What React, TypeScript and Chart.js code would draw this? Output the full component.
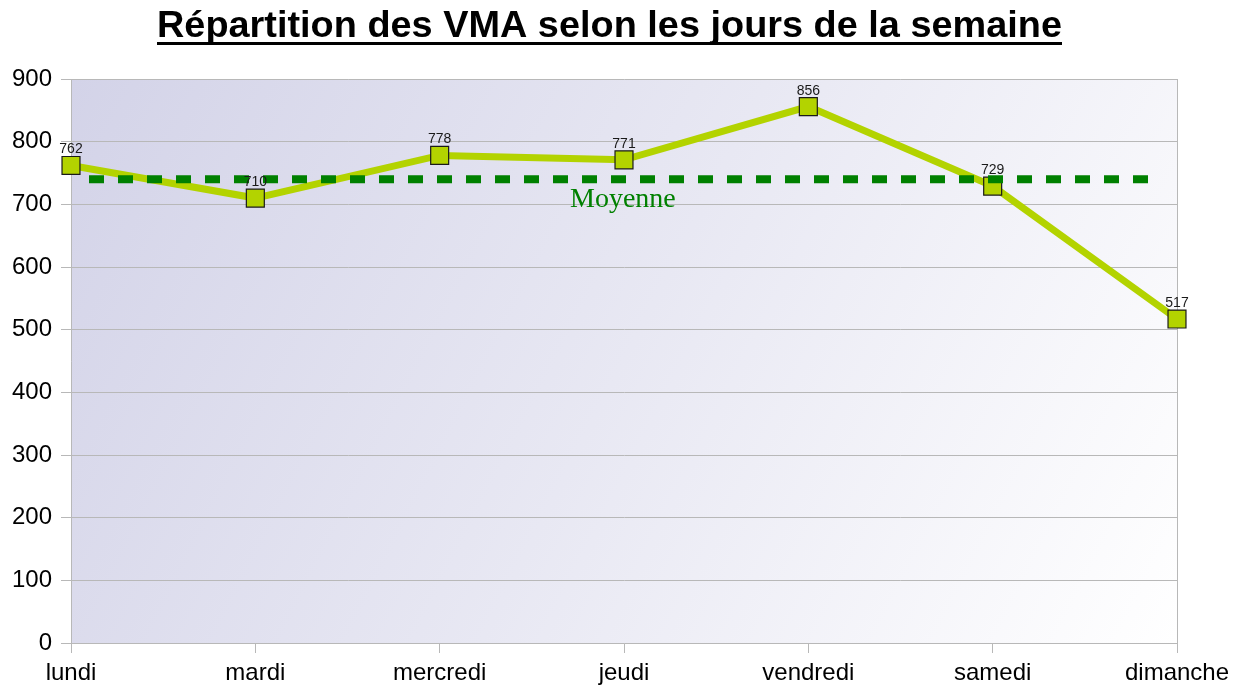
import React, { useEffect, useRef } from "react";
import { Chart, registerables } from "chart.js";

Chart.register(...registerables);

const TITLE = "Répartition des VMA selon les jours de la semaine";
const categories = ["lundi", "mardi", "mercredi", "jeudi", "vendredi", "samedi", "dimanche"];
const vmaValues = [762, 710, 778, 771, 856, 729, 517];
const meanValue = 740;
const meanLabel = "Moyenne";
const yMin = 0;
const yMax = 900;
const yStep = 100;

const LIME = "#b3d300";
const GREEN = "#008000";
const GRID = "#b8b8b8";

const bgPlugin = {
  id: "bgGradient",
  beforeDraw(chart: any) {
    const { ctx, chartArea: a } = chart;
    const g = ctx.createLinearGradient(a.left, a.top, a.right, a.bottom);
    g.addColorStop(0, "#d3d3e8");
    g.addColorStop(0.5, "#e8e8f3");
    g.addColorStop(1, "#ffffff");
    ctx.save();
    ctx.fillStyle = g;
    ctx.fillRect(a.left, a.top, a.right - a.left, a.bottom - a.top);
    ctx.restore();
  },
};

const overlayPlugin = {
  id: "overlay",
  beforeDatasetsDraw(chart: any) {
    const { ctx, chartArea: a } = chart;
    ctx.save();
    ctx.strokeStyle = GRID;
    ctx.lineWidth = 1;
    ctx.beginPath();
    ctx.moveTo(a.right + 0.5, a.top);
    ctx.lineTo(a.right + 0.5, a.bottom);
    ctx.stroke();
    ctx.restore();
  },
  afterDatasetsDraw(chart: any) {
    const { ctx, chartArea: a } = chart;
    const yScale = chart.scales.y;
    const my = yScale.getPixelForValue(meanValue);
    ctx.save();
    // mean dashed line
    ctx.strokeStyle = GREEN;
    ctx.lineWidth = 8;
    ctx.setLineDash([15, 14]);
    ctx.beginPath();
    ctx.moveTo(a.left + 18, my);
    ctx.lineTo(a.right - 16, my);
    ctx.stroke();
    ctx.setLineDash([]);
    // Moyenne label
    ctx.fillStyle = GREEN;
    ctx.font = '28px "Liberation Serif", "Times New Roman", serif';
    ctx.textAlign = "left";
    ctx.textBaseline = "alphabetic";
    ctx.fillText(meanLabel, 570, my + 28);
    // data labels
    const meta = chart.getDatasetMeta(0);
    ctx.fillStyle = "#1a1a1a";
    ctx.font = '14px "Liberation Sans", Arial, sans-serif';
    ctx.textAlign = "center";
    ctx.textBaseline = "alphabetic";
    meta.data.forEach((pt: any, i: number) => {
      ctx.fillText(String(vmaValues[i]), pt.x, pt.y - 12);
    });
    // title
    ctx.fillStyle = "#000";
    ctx.font = 'bold 36px "Liberation Sans Narrow", "Liberation Sans", Arial, sans-serif';
    const w = ctx.measureText(TITLE).width;
    const target = 905;
    const cx = 609.5;
    ctx.save();
    ctx.translate(cx, 37);
    ctx.scale(target / w, 1.04);
    ctx.textAlign = "center";
    ctx.fillText(TITLE, 0, 0);
    ctx.restore();
    ctx.fillRect(cx - target / 2, 42, target, 3);
    ctx.restore();
  },
};

export default function App() {
  const ref = useRef<HTMLCanvasElement>(null);
  useEffect(() => {
    if (!ref.current) return;
    const chart = new Chart(ref.current, {
      type: "line",
      data: {
        labels: categories,
        datasets: [
          {
            label: "VMA",
            data: vmaValues,
            borderColor: LIME,
            borderWidth: 7,
            backgroundColor: LIME,
            pointStyle: "rect",
            pointRadius: 12.7,
            pointBorderColor: "#1a1a1a",
            pointBorderWidth: 1.2,
            pointBackgroundColor: LIME,
            tension: 0,
            clip: false as any,
          },
        ],
      },
      options: {
        animation: false,
        responsive: false,
        maintainAspectRatio: false,
        layout: { padding: { top: 79, right: 60, left: 0, bottom: 0 } },
        plugins: {
          legend: { display: false },
          title: { display: false },
          tooltip: { enabled: false },
        },
        scales: {
          x: {
            type: "category",
            offset: false,
            grid: {
              drawOnChartArea: false,
              drawTicks: true,
              tickLength: 10,
              color: GRID,
            },
            border: { display: true, color: GRID },
            ticks: {
              color: "#000",
              font: { family: '"Liberation Sans", Arial, sans-serif', size: 24 },
              padding: 6,
              maxRotation: 0,
              autoSkip: false,
            },
            afterFit(scale: any) {
              scale.height = 47;
            },
          },
          y: {
            min: yMin,
            max: yMax,
            ticks: {
              stepSize: yStep,
              color: "#000",
              font: { family: '"Liberation Sans", Arial, sans-serif', size: 24 },
              padding: 9,
            },
            grid: { color: GRID, tickLength: 10, drawTicks: true },
            border: { display: true, color: GRID },
            afterFit(scale: any) {
              scale.width = 71;
            },
          },
        },
      },
      plugins: [bgPlugin, overlayPlugin],
    });
    return () => chart.destroy();
  }, []);
  return (
    <div style={{ position: "absolute", left: 0, top: 0, width: 1237, height: 690, background: "#fff" }}>
      <canvas ref={ref} width={1237} height={690} style={{ width: 1237, height: 690 }} />
    </div>
  );
}
